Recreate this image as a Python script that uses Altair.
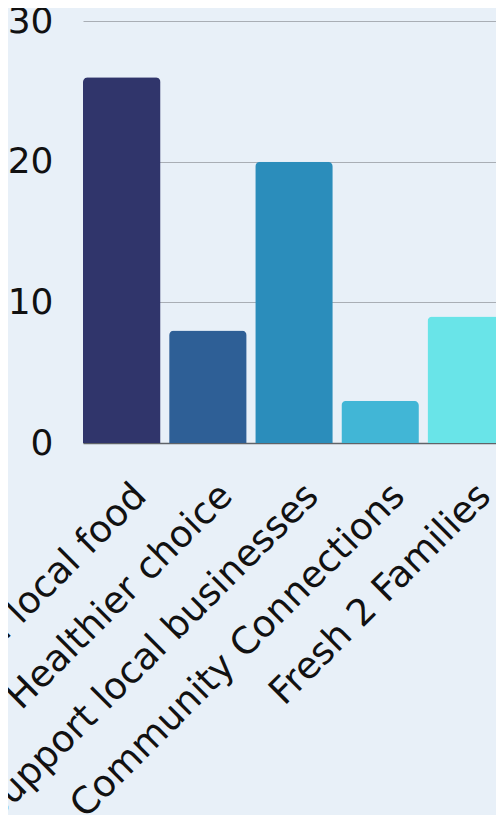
import altair as alt
import pandas as pd

categories = [
    "Fresh local food",
    "Healthier choice",
    "Support local businesses",
    "Community Connections",
    "Fresh 2 Families",
]
counts = [26, 8, 20, 3, 9]
colors = ["#30356b", "#2e5f96", "#2b8dbb", "#41b6d6", "#69e4e8"]
y_ticks = [0, 10, 20, 30]

df = pd.DataFrame({"category": categories, "count": counts})

FONT = "DejaVu Sans"

chart = (
    alt.Chart(df)
    .mark_bar(cornerRadiusTopLeft=5, cornerRadiusTopRight=5)
    .encode(
        x=alt.X(
            "category:N",
            sort=categories,
            scale=alt.Scale(paddingInner=0.1, paddingOuter=0, range=[0, 422]),
            axis=alt.Axis(
                title=None,
                labelAngle=-45,
                labelFontSize=37,
                labelFont=FONT,
                labelColor="#111111",
                labelPadding=34,
                labelOffset=6,
                ticks=False,
                tickSize=0,
                domainColor="#5f6368",
                domainWidth=1.5,
                grid=False,
                labelLimit=1000,
            ),
        ),
        y=alt.Y(
            "count:Q",
            scale=alt.Scale(domain=[0, 30]),
            axis=alt.Axis(
                title=None,
                values=y_ticks,
                labelFontSize=36,
                labelFont=FONT,
                labelColor="#111111",
                labelPadding=30,
                ticks=False,
                tickSize=0,
                domain=False,
                gridColor="#a9aeb5",
                gridWidth=1,
            ),
        ),
        color=alt.Color(
            "category:N",
            sort=categories,
            scale=alt.Scale(domain=categories, range=colors),
            legend=None,
        ),
    )
    .properties(
        width=413,
        height=422,
        autosize=alt.AutoSizeParams(type="none"),
        padding={"left": 75, "top": 13, "right": 0, "bottom": 372},
        background="#e8f0f8",
    )
    .configure_view(stroke=None)
)

chart.save("out.html", embed_options={"renderer": "svg", "actions": False})
